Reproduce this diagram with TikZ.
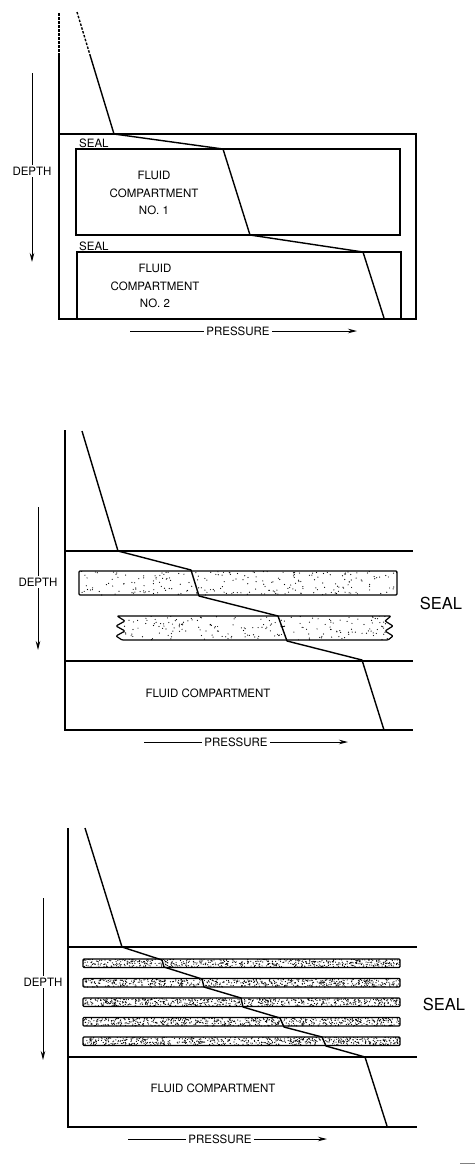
\documentclass[tikz,border=0pt]{standalone}
\usepackage{fontspec}
\setmainfont{TeX Gyre Heros}
\usetikzlibrary{arrows.meta,positioning}
\tikzset{
    rotulo/.style={
        font=\fontsize{11.5}{17.5}\selectfont,
        align=center,
        inner sep=1pt
    },
    rotuloGrande/.style={rotulo, font=\fontsize{16.5}{20}\selectfont},
    eixoTexto/.style={rotulo, fill=white, inner sep=2pt},
    contorno/.style={line width=1.4pt},
    tracejado/.style={dash pattern=on 2.5pt off 1.5pt},
    curva/.style={line width=1.4pt, line join=round},
    halo/.style={line width=3pt, white},
    seta/.style={line width=1pt, -{Stealth[length=9pt,width=4.5pt]}},
    banda/.style={line width=1.2pt, rounded corners=1pt}
}
% pontos ao acaso: x0, y0, largura, altura, quantidade
\newcommand{\pontilhar}[5]{%
    \foreach \k in {1,...,#5}{
        \pgfmathsetmacro{\px}{#1+rnd*#3}
        \pgfmathsetmacro{\py}{#2+rnd*#4}
        \fill (\px,\py) circle (0.6pt);
    }}

\begin{document}
\begin{tikzpicture}[x=1pt, y=-1pt]
    \useasboundingbox (0,0) rectangle (476,1165);
    \pgfmathsetseed{17}

    % ---------- quadro 1: dois compartimentos ----------
    \draw[contorno, tracejado] (59,13) -- (59,55);
    \draw[contorno] (59,55) -- (59,319);
    \draw[contorno] (59,134) rectangle (416,319);
    \draw[contorno] (76,149) rectangle (400,235);
    \draw[contorno] (77,318) -- (77,252) -- (401,252) -- (401,318);
    \draw[curva, tracejado] (77,12) -- (90,55);
    \draw[curva] (90,55) -- (114,134) -- (223,149) -- (250,235)
        -- (363,252) -- (384,318);
    \node[rotulo, anchor=west] (selo1a) at (78,143) {SEAL};
    \node[rotulo, anchor=west] (selo1b) at (78,246) {SEAL};
    \node[rotulo] (comp1) at (154,193) {FLUID\\COMPARTMENT\\NO. 1};
    \node[rotulo] (comp2) at (155,286) {FLUID\\COMPARTMENT\\NO. 2};
    \draw[seta] (32,73) -- (32,262);
    \node[eixoTexto] (prof1) at (32,171) {DEPTH};
    \draw[seta] (130,331) -- (357,331);
    \node[eixoTexto] (pressao1) at (238,331) {PRESSURE};

    % ---------- quadro 2: selo com duas camadas ----------
    \draw[contorno] (65,430) -- (65,730) -- (413,730);
    \draw[contorno] (65,551) -- (413,551);
    \draw[contorno] (65,661) -- (413,661);
    \begin{scope}
        \clip (79,571) rectangle (397,595);
        \pontilhar{79}{571}{318}{24}{230}
    \end{scope}
    \draw[banda] (79,571) rectangle (397,595);
    \begin{scope}
        \clip (117,616) -- (125,621) -- (116,626) -- (125,631) -- (116,636)
            -- (122,640) -- (388,640) -- (393,636) -- (385,631) -- (393,626)
            -- (385,621) -- (391,616) -- cycle;
        \pontilhar{115}{616}{279}{24}{200}
    \end{scope}
    \draw[banda, line join=round] (117,616) -- (125,621) -- (116,626)
        -- (125,631) -- (116,636) -- (122,640) -- (388,640) -- (393,636)
        -- (385,631) -- (393,626) -- (385,621) -- (391,616) -- cycle;
    \draw[curva] (82,431) -- (118,551) -- (191,570) -- (199,596)
        -- (278,616) -- (287,641) -- (362,660) -- (384,730);
    \node[rotuloGrande] (selo2) at (441,603) {SEAL};
    \node[rotulo] (comp3) at (208,693) {FLUID COMPARTMENT};
    \draw[seta] (38,507) -- (38,650);
    \node[eixoTexto] (prof2) at (38,582) {DEPTH};
    \draw[seta] (144,742) -- (348,742);
    \node[eixoTexto] (pressao2) at (236,742) {PRESSURE};

    % ---------- quadro 3: selo com cinco camadas ----------
    \draw[contorno] (68,828) -- (68,1127) -- (417,1127);
    \draw[contorno] (68,947) -- (417,947);
    \draw[contorno] (68,1057) -- (417,1057);
    \foreach \t in {959,978.5,998,1017.5,1037}{
        \begin{scope}
            \clip (83,\t) rectangle (400,\t+8.5);
            \pontilhar{83}{\t}{317}{8.5}{650}
        \end{scope}
    }
    \draw[halo] (162,960) -- (164,967);
    \draw[halo] (202,979) -- (204,987);
    \draw[halo] (241,998) -- (243,1007);
    \draw[halo] (280,1018) -- (284,1027);
    \draw[halo] (322,1037) -- (326,1046);
    \foreach \t in {959,978.5,998,1017.5,1037}{
        \draw[banda] (83,\t) rectangle (400,\t+8.5);
    }
    \draw[curva] (85,828) -- (122,947) -- (162,960) -- (164,967)
        -- (202,979) -- (204,987) -- (241,998) -- (243,1007)
        -- (280,1018) -- (284,1027) -- (322,1037) -- (326,1046)
        -- (365,1057) -- (387,1126);
    \node[rotuloGrande] (selo3) at (444,1004) {SEAL};
    \node[rotulo] (comp4) at (213,1088) {FLUID COMPARTMENT};
    \draw[seta] (43,898) -- (43,1060);
    \node[eixoTexto] (prof3) at (43,982) {DEPTH};
    \draw[seta] (128,1139) -- (327,1139);
    \node[eixoTexto] (pressao3) at (220,1139) {PRESSURE};

    \draw[gray, line width=1pt] (460,1163.5) -- (475,1163.5);
\end{tikzpicture}
\end{document}
